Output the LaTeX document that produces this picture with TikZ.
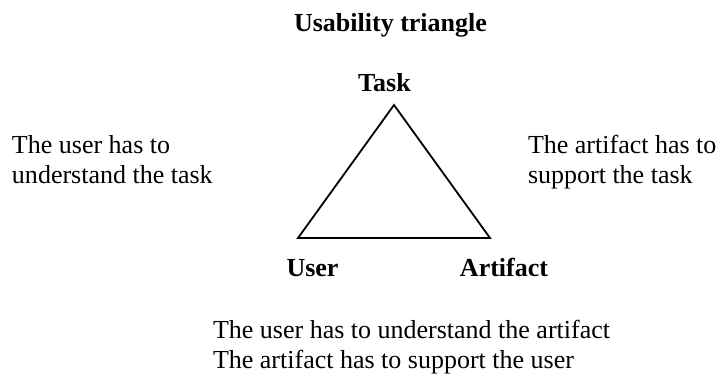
\documentclass[tikz,border=0pt]{standalone}
\usepackage{fontspec}
\setmainfont{Liberation Serif}
\begin{document}
\begin{tikzpicture}[x=1pt,y=-1pt,
  txt/.style={inner sep=0pt,outer sep=0pt,anchor=base west,align=left,
    font=\fontsize{26}{30}\selectfont},
  lbl/.style={inner sep=0pt,outer sep=0pt,anchor=base,
    font=\fontsize{26}{30}\selectfont\bfseries},
  edge/.style={line width=1.8pt,line join=miter}]
  \useasboundingbox (0,0) rectangle (722,374);

  % heading
  \node[lbl] (title) at (390.5,32) {Usability triangle};

  % corners of the triangle
  \coordinate (t) at (394,105);
  \coordinate (u) at (298,238);
  \coordinate (a) at (490,238);
  \draw[edge] (t) -- (a) -- (u) -- cycle;

  % corner labels
  \node[lbl] (task) at (384.5,92) {Task};
  \node[lbl] (user) at (312.5,276) {User};
  \node[lbl] (artifact) at (504,276) {Artifact};

  % side descriptions (anchored on the baseline of their last line)
  \node[txt] (left) at (12,183) {The user has to\\understand the task};
  \node[txt] (right) at (528,183) {The artifact has to\\support the task};
  \node[txt] (bottom) at (213,368) {The user has to understand the artifact\\The artifact has to support the user};
\end{tikzpicture}
\end{document}
